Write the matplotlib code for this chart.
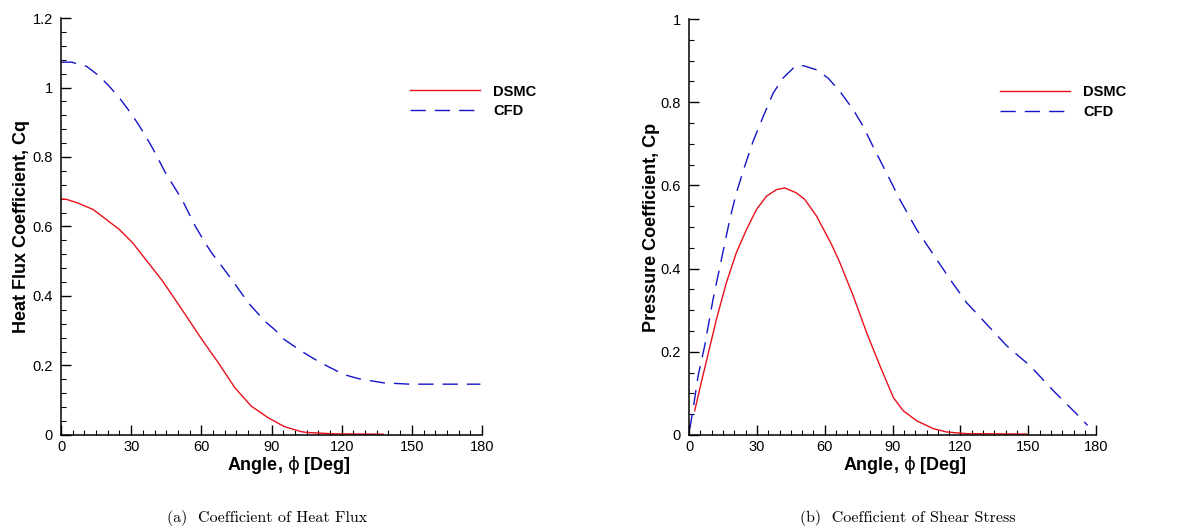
import matplotlib
matplotlib.use('Agg')
import matplotlib.pyplot as plt
from matplotlib.ticker import MultipleLocator, FormatStrFormatter
import numpy as np

# Heat flux data, panel (a)
ang_q_dsmc = [0, 2.4, 7, 13.7, 19, 25, 30.6, 36.2, 43.3, 51.7, 60.2, 67.2,
              74.3, 81.3, 88.4, 95.4, 102.5, 105, 116.6, 137.7]
cq_dsmc = [0.679, 0.678, 0.668, 0.649, 0.622, 0.591, 0.553, 0.505, 0.444, 0.361,
           0.275, 0.208, 0.136, 0.083, 0.050, 0.024, 0.0096, 0.007, 0.003, 0.002]

ang_q_cfd = [0, 4.5, 10.9, 16, 20.7, 25, 29.2, 32.7, 36.2, 39.1, 44.7, 51.7,
             57.4, 61.6, 64.4, 68.7, 72.9, 80, 87, 91.2, 95.4, 102.5, 110.9,
             120.8, 127.1, 137.7, 149, 179.3]
cq_cfd = [1.073, 1.073, 1.061, 1.035, 1.003, 0.970, 0.932, 0.898, 0.860, 0.826,
          0.754, 0.678, 0.601, 0.553, 0.524, 0.486, 0.448, 0.381, 0.328, 0.304,
          0.275, 0.242, 0.208, 0.174, 0.162, 0.150, 0.146, 0.146]

# Pressure data, panel (b)
ang_p_dsmc = [2.5, 4.7, 8.4, 12.1, 16.5, 20.9, 25.4, 29.8, 34.2, 38.7, 42.3,
              47.5, 51.2, 56.4, 63, 66.7, 72.6, 78.5, 84.4, 90.3, 94.7, 100.6,
              108, 113.9, 122.7, 149.3]
cp_dsmc = [0.058, 0.110, 0.194, 0.278, 0.366, 0.438, 0.494, 0.542, 0.574, 0.590,
           0.594, 0.582, 0.566, 0.526, 0.458, 0.414, 0.334, 0.246, 0.166, 0.090,
           0.058, 0.034, 0.015, 0.007, 0.003, 0.002]

ang_p_cfd = [0.3, 1.8, 4, 6.9, 10.6, 14.3, 18, 20.9, 24.6, 28.3, 32.8, 37.2,
             41.5, 46.8, 50.5, 56.4, 61.5, 66.7, 72.6, 77, 81.3, 87.3, 93.2,
             100.6, 108, 115.4, 122.7, 131.6, 140.5, 150.8, 161.1, 171.4, 176.2]
cp_cfd = [0.014, 0.062, 0.142, 0.214, 0.326, 0.422, 0.518, 0.582, 0.646, 0.706,
          0.766, 0.822, 0.858, 0.886, 0.888, 0.878, 0.858, 0.826, 0.782, 0.742,
          0.694, 0.630, 0.566, 0.494, 0.434, 0.374, 0.318, 0.266, 0.214, 0.166,
          0.106, 0.050, 0.023]

plt.rcParams['font.family'] = ['Liberation Sans', 'DejaVu Sans']
plt.rcParams['mathtext.fontset'] = 'custom'
plt.rcParams['mathtext.rm'] = 'DejaVu Sans'
plt.rcParams['mathtext.it'] = 'DejaVu Sans'

red = '#e8101a'
blue = '#1414c8'
dash = (11, 6.5)

fig = plt.figure(figsize=(11.87, 5.31), dpi=100)
ax1 = fig.add_axes([0.0514, 0.181, 0.3547, 0.785])
ax2 = fig.add_axes([0.5805, 0.181, 0.343, 0.783])


def style_axes(ax, ymax, ymajor, yminor, xlab_pos):
    ax.set_xlim(0, 180)
    ax.set_ylim(0, ymax)
    ax.xaxis.set_major_locator(MultipleLocator(30))
    ax.xaxis.set_minor_locator(MultipleLocator(5))
    ax.yaxis.set_major_locator(MultipleLocator(ymajor))
    ax.yaxis.set_minor_locator(MultipleLocator(yminor))
    ax.yaxis.set_major_formatter(FormatStrFormatter('%g'))
    ax.spines['top'].set_visible(False)
    ax.spines['right'].set_visible(False)
    for s in ['left', 'bottom']:
        ax.spines[s].set_linewidth(1.1)
    ax.tick_params(which='major', direction='in', length=7, width=1.0,
                   labelsize=10.5)
    ax.tick_params(axis='y', which='major', pad=6)
    ax.tick_params(axis='x', which='major', pad=4)
    ax.tick_params(which='minor', direction='in', length=3.5, width=0.8)
    ax.set_xlabel('Angle, $\\phi$ [Deg]', fontsize=13, fontweight='bold',
                  labelpad=0)
    ax.xaxis.set_label_coords(xlab_pos, -0.045)


ax1.plot(ang_q_dsmc, cq_dsmc, color=red, lw=1.0, label='DSMC')
ax1.plot(ang_q_cfd, cq_cfd, color=blue, lw=1.0, dashes=dash, label='CFD')
style_axes(ax1, 1.2, 0.2, 0.04, 0.541)
ax1.set_ylabel('Heat Flux Coefficient, Cq', fontsize=13, fontweight='bold',
               labelpad=2)
leg1 = ax1.legend(loc='center left', bbox_to_anchor=(0.815, 0.80),
                  frameon=False, handlelength=4.8, handletextpad=0.9,
                  labelspacing=0.4, prop={'weight': 'bold', 'size': 10.5},
                  borderaxespad=0)

ax2.plot(ang_p_dsmc, cp_dsmc, color=red, lw=1.0, label='DSMC')
ax2.plot(ang_p_cfd, cp_cfd, color=blue, lw=1.0, dashes=dash, label='CFD')
style_axes(ax2, 1.0, 0.2, 0.05, 0.53)
ax2.set_ylabel('Pressure Coefficient, Cp', fontsize=13, fontweight='bold',
               labelpad=0)
leg2 = ax2.legend(loc='center left', bbox_to_anchor=(0.75, 0.80),
                  frameon=False, handlelength=4.8, handletextpad=0.9,
                  labelspacing=0.4, prop={'weight': 'bold', 'size': 10.5},
                  borderaxespad=0)

fig.text(0.225, 0.01, '(a)  Coefficient of Heat Flux', family='cmr10',
         fontsize=11.5, ha='center', va='bottom')
fig.text(0.765, 0.01, '(b)  Coefficient of Shear Stress', family='cmr10',
         fontsize=11.5, ha='center', va='bottom')

plt.savefig('out.png', dpi=100)
